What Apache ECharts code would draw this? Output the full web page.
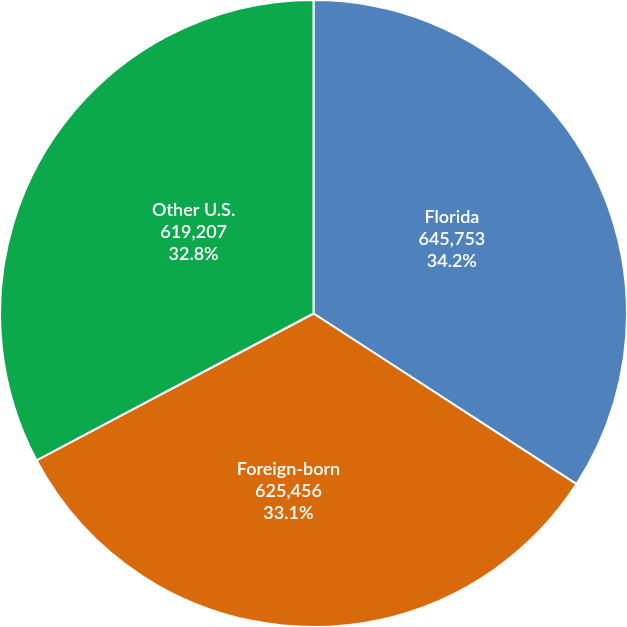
<!DOCTYPE html>
<html>
<head>
<meta charset="utf-8">
<script src="https://cdn.jsdelivr.net/npm/echarts@6/dist/echarts.min.js"></script>
<style>
html,body{margin:0;padding:0;background:#fff;}
#c{width:627px;height:627px;}
</style>
</head>
<body>
<div id="c"></div>
<script>
var categories = ['Florida', 'Foreign-born', 'Other U.S.'];
var values = [645753, 625456, 619207];
var colors = ['#4F81BD', '#D96A0B', '#0BA84C'];

var chart = echarts.init(document.getElementById('c'));
function fmt(n){ return n.toString().replace(/\B(?=(\d{3})+(?!\d))/g, ','); }
var labelShift = [[-2, 2], [-18, 18], [17, 1]];
chart.setOption({
  animation: false,
  series: [{
    type: 'pie',
    center: ['50%', '50%'],
    radius: '100%',
    startAngle: 90,
    clockwise: true,
    data: categories.map(function(c, i){ return {name: c, value: values[i], itemStyle: {color: colors[i]}}; }),
    itemStyle: {borderColor: '#fff', borderWidth: 2},
    label: {
      show: true,
      position: 'inside',
      color: '#fff',
      fontFamily: 'Lato',
      fontSize: 18,
      fontWeight: 600,
      lineHeight: 22,
      align: 'center',
      formatter: function(p){ return p.name + '\n' + fmt(p.value) + '\n' + p.percent.toFixed(1) + '%'; }
    },
    labelLayout: function(p){ var s = labelShift[p.dataIndex]; return {dx: s[0], dy: s[1]}; },
    labelLine: {show: false},
    emphasis: {disabled: true}
  }]
});
</script>
</body>
</html>
